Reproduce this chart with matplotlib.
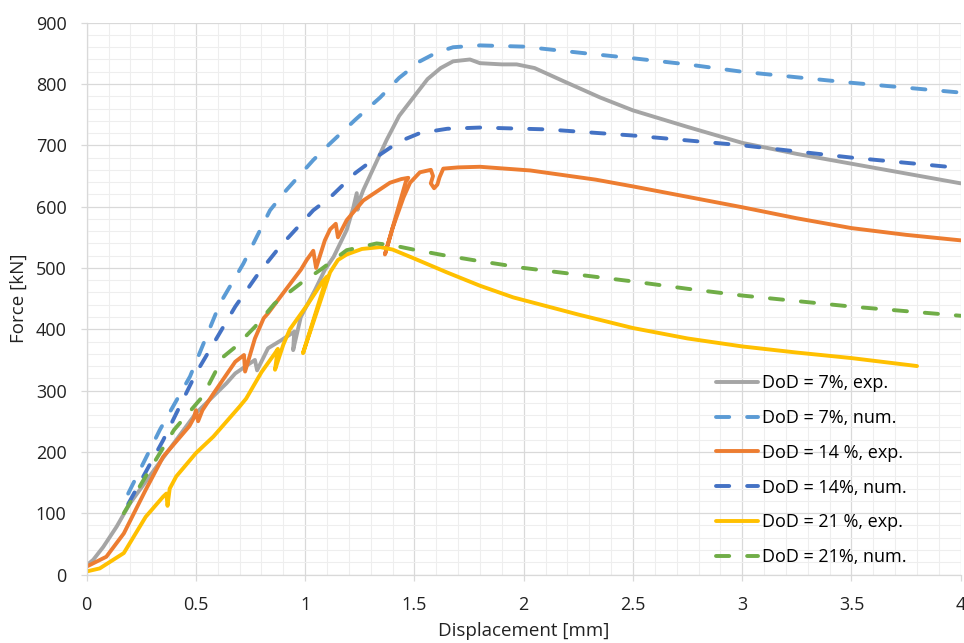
import numpy as np
import matplotlib
matplotlib.use("Agg")
import matplotlib.pyplot as plt
from matplotlib.ticker import MultipleLocator, FuncFormatter

plt.rcParams['font.family'] = ['Open Sans', 'DejaVu Sans']

# DoD = 7 %, experiment
x_7e = [0, 0.03, 0.076, 0.137, 0.198, 0.32, 0.50, 0.64, 0.68, 0.77, 0.78, 0.83, 0.89,
        0.95, 0.945, 0.98, 1.045, 1.09, 1.13, 1.19, 1.22, 1.236, 1.24, 1.25, 1.266,
        1.373, 1.43, 1.495, 1.56, 1.62, 1.677, 1.754, 1.80, 1.90, 1.968, 2.05,
        2.18, 2.35, 2.5, 2.75, 3.0, 3.25, 3.5, 3.75, 4.0]
y_7e = [15, 24, 45, 78, 116, 176, 263, 312, 328, 350, 333, 369, 382,
        396, 366, 420, 464, 497, 518, 562, 598, 622, 595, 612, 627,
        709, 748, 778, 808, 826, 837, 840, 834, 832, 832, 826,
        805, 778, 757, 730, 704, 686, 670, 654, 638]

# DoD = 7 %, numerical
x_7n = [0.19, 0.335, 0.473, 0.61, 0.717, 0.839, 0.914, 1.037, 1.114, 1.23, 1.343,
        1.43, 1.525, 1.60, 1.677, 1.80, 1.998, 2.258, 2.5, 2.75, 3.0, 3.5, 4.0]
y_7n = [132, 236, 323, 442, 507, 594, 627, 676, 703, 742, 778,
        810, 837, 851, 860, 863, 861, 851, 842, 832, 820, 802, 786]

# DoD = 14 %, experiment
x_14e = [0, 0.09, 0.17, 0.27, 0.35, 0.47, 0.49, 0.50, 0.51, 0.53, 0.58, 0.68, 0.72,
         0.725, 0.77, 0.81, 0.83, 0.91, 0.98, 1.007, 1.037, 1.05, 1.09, 1.114, 1.14,
         1.15, 1.19, 1.266, 1.388, 1.44, 1.472, 1.46, 1.365, 1.40, 1.45, 1.48,
         1.525, 1.575, 1.585, 1.575, 1.59, 1.605, 1.615, 1.632, 1.70, 1.80, 2.03,
         2.33, 2.5, 2.75, 3.0, 3.25, 3.5, 3.75, 4.0]
y_14e = [13, 29, 67, 138, 192, 242, 255, 268, 250, 268, 295, 347, 358,
         331, 385, 418, 426, 464, 497, 513, 528, 500, 545, 563, 572,
         550, 578, 610, 639, 645, 647, 640, 522, 565, 615, 639,
         656, 660, 650, 638, 630, 636, 648, 662, 664, 665, 659,
         644, 633, 616, 599, 581, 565, 554, 545]

# DoD = 14 %, numerical
x_14n = [0.19, 0.35, 0.50, 0.68, 0.786, 0.885, 1.037, 1.114, 1.23, 1.343, 1.43,
         1.525, 1.65, 1.80, 2.105, 2.5, 3.0, 3.5, 4.0]
y_14n = [115, 219, 328, 437, 491, 535, 594, 615, 655, 685, 706,
         720, 727, 729, 726, 716, 700, 680, 663]

# DoD = 21 %, experiment
x_21e = [0, 0.06, 0.17, 0.27, 0.35, 0.365, 0.37, 0.38, 0.41, 0.50, 0.58, 0.70, 0.73,
         0.80, 0.86, 0.875, 0.862, 0.90, 0.93, 1.014, 1.08, 1.10, 0.99, 1.114,
         1.15, 1.19, 1.26, 1.343, 1.40, 1.495, 1.647, 1.80, 1.952, 2.25, 2.5, 2.75,
         3.0, 3.25, 3.5, 3.8]
y_21e = [5, 10, 35, 94, 127, 132, 112, 140, 160, 198, 225, 274, 287,
         330, 360, 368, 334, 375, 400, 442, 478, 486, 361, 493,
         513, 522, 531, 534, 530, 516, 493, 471, 452, 424, 402, 385,
         372, 362, 353, 340]

# DoD = 21 %, numerical
x_21n = [0.17, 0.27, 0.40, 0.53, 0.625, 0.68, 0.77, 0.86, 0.98, 1.07, 1.19, 1.327,
         1.40, 1.495, 1.63, 1.80, 2.0, 2.25, 2.5, 2.75, 3.0, 3.5, 4.0]
y_21n = [100, 160, 236, 290, 355, 371, 404, 442, 475, 497, 529, 540,
         537, 530, 521, 511, 500, 489, 478, 466, 455, 437, 422]

labels = ["DoD = 7%, exp.", "DoD = 7%, num.", "DoD = 14 %, exp.",
          "DoD = 14%, num.", "DoD = 21 %, exp.", "DoD = 21%, num."]

fig = plt.figure(figsize=(9.64, 6.43), dpi=100)
ax = fig.add_axes([0.0899, 0.1065, 0.9067, 0.8582])

lw = 2.8
dash = dict(linestyle=(0, (3.4, 4.6)), dash_capstyle='round')
ax.plot(x_7e, y_7e, color='#A5A5A5', lw=lw, solid_capstyle='round', label=labels[0])
ax.plot(x_7n, y_7n, color='#5B9BD5', lw=lw, label=labels[1], **dash)
ax.plot(x_14e, y_14e, color='#ED7D31', lw=lw, solid_capstyle='round', label=labels[2])
ax.plot(x_14n, y_14n, color='#4472C4', lw=lw, label=labels[3], **dash)
ax.plot(x_21e, y_21e, color='#FFC000', lw=lw, solid_capstyle='round', label=labels[4])
ax.plot(x_21n, y_21n, color='#70AD47', lw=lw, label=labels[5], **dash)

ax.set_xlim(0, 4)
ax.set_ylim(0, 900)
ax.xaxis.set_major_locator(MultipleLocator(0.5))
ax.xaxis.set_minor_locator(MultipleLocator(0.1))
ax.yaxis.set_major_locator(MultipleLocator(100))
ax.yaxis.set_minor_locator(MultipleLocator(20))
ax.xaxis.set_major_formatter(FuncFormatter(lambda v, p: f"{v:g}"))

ax.grid(which='major', color='#D9D9D9', lw=0.9)
ax.grid(which='minor', color='#EEEEEE', lw=0.75)
ax.set_axisbelow(True)
for s in ['top', 'right']:
    ax.spines[s].set_visible(False)
for s in ['left', 'bottom']:
    ax.spines[s].set_color('#D9D9D9')
    ax.spines[s].set_linewidth(0.9)

ax.tick_params(which='major', length=4.5, width=0.9, color='#D9D9D9',
               labelsize=13, labelcolor='#222222')
ax.tick_params(axis='y', pad=10)
ax.tick_params(axis='x', pad=11)
ax.tick_params(which='minor', length=0)

ax.set_xlabel("Displacement [mm]", fontsize=13.5, color='#222222', labelpad=6)
ax.set_ylabel("Force [kN]", fontsize=13.5, color='#222222', labelpad=6)

leg = ax.legend(loc='upper left', bbox_to_anchor=(0.7427, 0.418),
                bbox_transform=fig.transFigure, frameon=False, fontsize=13,
                handlelength=2.35, handletextpad=0.22, labelspacing=0.93,
                borderpad=0, borderaxespad=0)

fig.savefig("out.png", dpi=100)
